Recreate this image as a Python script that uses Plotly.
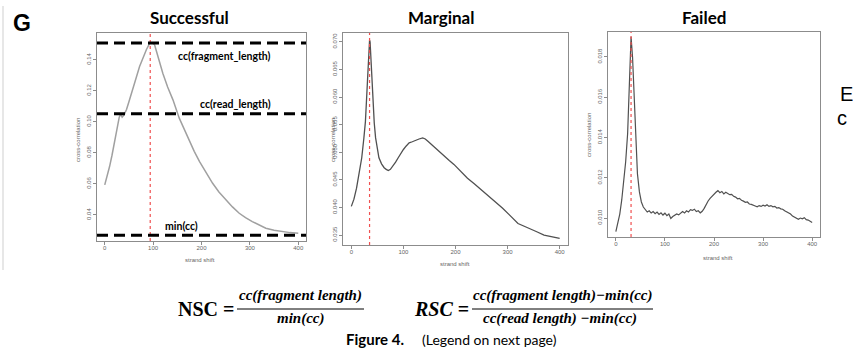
import plotly.graph_objects as go

W, H = 853, 355

# ---------------- data ----------------
succ_x = [0, 5, 10, 15, 20, 25, 30, 33, 36, 40, 45, 50, 58, 65, 72, 79, 86, 93, 98, 103,
          110, 120, 130, 141, 154, 165, 175, 185, 196, 210, 223, 236, 250, 264, 278, 291,
          305, 319, 333, 350, 367, 383, 400]
succ_y = [0.0594, 0.0650, 0.0712, 0.0785, 0.0860, 0.0945, 0.1030, 0.1050, 0.1030, 0.1045,
          0.1080, 0.1130, 0.1206, 0.1285, 0.1357, 0.1415, 0.1465, 0.1508, 0.1510, 0.1497,
          0.1420, 0.1314, 0.1225, 0.1142, 0.1024, 0.0945, 0.0884, 0.0810, 0.0744, 0.0670,
          0.0604, 0.0548, 0.0497, 0.0452, 0.0411, 0.0382, 0.0357, 0.0334, 0.0314, 0.0301,
          0.0292, 0.0286, 0.0282]
succ_frag_cc = 0.1508
succ_read_cc = 0.1052
succ_min_cc = 0.0269
succ_frag_shift = 94

marg_x = [0, 5, 10, 15, 20, 24, 27, 31, 33, 35, 36, 38, 40, 42, 44, 46.6, 50, 53, 58, 63,
          67, 71, 75, 80, 85, 90, 95, 100, 105, 111, 117, 123, 130, 137, 142, 147, 155,
          162, 170, 180, 188, 197, 210, 223, 236, 250, 263, 277, 290, 303, 312, 320, 332,
          343, 356, 370, 385, 400]
marg_y = [0.0402, 0.0415, 0.0435, 0.0460, 0.0490, 0.0525, 0.0555, 0.0629, 0.0670, 0.0703,
          0.0700, 0.0660, 0.0620, 0.0581, 0.0553, 0.0526, 0.0505, 0.0490, 0.0479, 0.0472,
          0.0469, 0.0467, 0.0469, 0.0475, 0.0482, 0.0490, 0.0498, 0.0505, 0.0511, 0.0517,
          0.0519, 0.0522, 0.0524, 0.0526, 0.0524, 0.0520, 0.0513, 0.0507, 0.0499, 0.0491,
          0.0485, 0.0478, 0.0466, 0.0453, 0.0443, 0.0432, 0.0421, 0.0411, 0.0399, 0.0387,
          0.0379, 0.0371, 0.0366, 0.0362, 0.0356, 0.0350, 0.0347, 0.0344]
marg_frag_shift = 35

fail_x = [0, 4, 8, 12, 16, 20, 24, 28, 31, 34, 37, 40, 44, 48, 52, 56,
          60, 64, 68, 72, 76, 80, 84, 88, 92, 96, 100, 104, 108, 112, 116, 120, 124, 128,
          132, 136, 140, 144, 148, 152, 156, 160, 164, 168, 172, 176, 180, 184, 188, 192,
          196, 200, 204, 208, 212, 216, 220, 224, 228, 232, 236, 240, 244, 248, 252, 256,
          260, 264, 268, 272, 276, 280, 284, 288, 292, 296, 300, 304, 308, 312, 316, 320,
          324, 328, 332, 336, 340, 344, 348, 352, 356, 360, 364, 368, 372, 376, 380, 384,
          388, 392, 396, 400]
fail_y = [0.00933, 0.0098, 0.0102, 0.0109, 0.0118, 0.0128, 0.0142, 0.0170, 0.0190, 0.0180,
          0.0160, 0.0140, 0.0122, 0.0113, 0.0108, 0.01055,
          0.01045, 0.01030, 0.01036, 0.01025, 0.01032, 0.01022, 0.01030, 0.01018, 0.01026,
          0.01015, 0.01024, 0.01012, 0.01020, 0.00998, 0.01008, 0.01012, 0.01020, 0.01016,
          0.01026, 0.01032, 0.01025, 0.01036, 0.01030, 0.01042, 0.01038, 0.01044, 0.01032,
          0.01036, 0.01026, 0.01034, 0.01048, 0.01068, 0.01085, 0.01098, 0.01110, 0.01118,
          0.01128, 0.01136, 0.01126, 0.01132, 0.01120, 0.01128, 0.01124, 0.01116, 0.01118,
          0.01108, 0.01104, 0.01096, 0.01098, 0.01088, 0.01084, 0.01078, 0.01080, 0.01070,
          0.01068, 0.01062, 0.01060, 0.01056, 0.01062, 0.01058, 0.01064, 0.01060, 0.01066,
          0.01058, 0.01062, 0.01056, 0.01058, 0.01050, 0.01052, 0.01046, 0.01044, 0.01036,
          0.01032, 0.01024, 0.01020, 0.01010, 0.01004, 0.00998, 0.00994, 0.01000, 0.00996,
          0.01002, 0.00992, 0.00990, 0.00984, 0.00978]
fail_frag_shift = 31

x_ticks = [0, 100, 200, 300, 400]
succ_yticks = [0.04, 0.06, 0.08, 0.10, 0.12, 0.14]
succ_yticktext = ["0.04", "0.06", "0.08", "0.10", "0.12", "0.14"]
marg_yticks = [0.035, 0.040, 0.045, 0.050, 0.055, 0.060, 0.065, 0.070]
marg_yticktext = ["0.035", "0.040", "0.045", "0.050", "0.055", "0.060", "0.065", "0.070"]
fail_yticks = [0.010, 0.012, 0.014, 0.016, 0.018]
fail_yticktext = ["0.010", "0.012", "0.014", "0.016", "0.018"]

titles = ["Successful", "Marginal", "Failed"]


def px(x):
    return x / W


def py(y):
    return 1 - y / H


fig = go.Figure()
fig.add_trace(go.Scatter(x=succ_x, y=succ_y, mode="lines", xaxis="x", yaxis="y",
                         line=dict(color="#a0a0a0", width=1.5), hoverinfo="skip"))
fig.add_trace(go.Scatter(x=marg_x, y=marg_y, mode="lines", xaxis="x2", yaxis="y2",
                         line=dict(color="#505050", width=1.3), hoverinfo="skip"))
fig.add_trace(go.Scatter(x=fail_x, y=fail_y, mode="lines", xaxis="x3", yaxis="y3",
                         line=dict(color="#505050", width=1.2), hoverinfo="skip"))

tickfont = dict(family="Liberation Sans", size=6, color="#666666")
frame = dict(showline=True, linecolor="#8c8c8c", linewidth=1, mirror=True,
             showgrid=False, zeroline=False, ticks="outside", ticklen=3,
             tickcolor="#8c8c8c", tickfont=tickfont, fixedrange=True)

panels = [
    dict(xd=(97, 306), yd=(33, 241), yr=[0.0232, 0.1573], yt=succ_yticks, ytt=succ_yticktext),
    dict(xd=(343, 568), yd=(33, 245), yr=[0.0332, 0.0716], yt=marg_yticks, ytt=marg_yticktext),
    dict(xd=(608, 820), yd=(32, 237), yr=[0.00906, 0.01924], yt=fail_yticks, ytt=fail_yticktext),
]

layout = dict(width=W, height=H, margin=dict(l=0, r=0, t=0, b=0),
              paper_bgcolor="white", plot_bgcolor="white", showlegend=False)
for i, p in enumerate(panels):
    sfx = "" if i == 0 else str(i + 1)
    layout["xaxis" + sfx] = dict(frame, domain=[px(p["xd"][0]), px(p["xd"][1])],
                                 range=[-16, 416], tickvals=x_ticks,
                                 ticklabelstandoff=-2, anchor="y" + sfx)
    layout["yaxis" + sfx] = dict(frame, domain=[py(p["yd"][1]), py(p["yd"][0])],
                                 range=p["yr"], tickvals=p["yt"], ticktext=p["ytt"],
                                 tickangle=-90, anchor="x" + sfx)
fig.update_layout(**layout)

shapes = []
# red dotted fragment-length lines
for ax, s in [("", succ_frag_shift), ("2", marg_frag_shift), ("3", fail_frag_shift)]:
    shapes.append(dict(type="line", xref="x" + ax, yref="y" + ax + " domain",
                       x0=s, x1=s, y0=0, y1=1,
                       line=dict(color="#f05050", width=1.2, dash="dot")))
# black dashed cc lines in successful panel
for v in [succ_frag_cc, succ_read_cc, succ_min_cc]:
    shapes.append(dict(type="line", xref="x domain", yref="y", x0=0, x1=1, y0=v, y1=v,
                       line=dict(color="black", width=3, dash="11px,6px")))
# fraction bars
shapes.append(dict(type="line", xref="paper", yref="paper", x0=px(237), x1=px(364),
                   y0=py(309), y1=py(309), line=dict(color="black", width=1)))
shapes.append(dict(type="line", xref="paper", yref="paper", x0=px(472), x1=px(653),
                   y0=py(309), y1=py(309), line=dict(color="black", width=1)))
# page edge line on the left
shapes.append(dict(type="line", xref="paper", yref="paper", x0=px(3), x1=px(3),
                   y0=py(6), y1=py(270), line=dict(color="#cfcfcf", width=1)))
fig.update_layout(shapes=shapes)

ann = []


def txt(x, y, t, size, family="Liberation Sans", color="black", xanchor="center",
        angle=0):
    ann.append(dict(x=px(x), y=py(y), xref="paper", yref="paper", text=t, showarrow=False,
                    xanchor=xanchor, yanchor="middle", textangle=angle,
                    font=dict(family=family, size=size, color=color)))


txt(22, 23, "<b>G</b>", 23)
for (cx, t) in zip([189, 441, 704], titles):
    txt(cx, 17, "<b>" + t + "</b>", 17, family="Lato")
# panel 1 labels
txt(225, 56, "<b>cc(fragment_length)</b>", 10.5, family="Lato")
txt(235, 104, "<b>cc(read_length)</b>", 10.5, family="Lato")
txt(181, 226, "<b>min(cc)</b>", 10.5, family="Lato")
# axis titles
for cx, cy in [(200, 260), (455, 264), (718, 258)]:
    txt(cx, cy, "strand shift", 6, color="#666666")
for cx, cy in [(78, 140), (333, 140), (589, 135)]:
    txt(cx, cy, "cross-correlation", 6, color="#666666", angle=-90)
# formulas
serif = "Liberation Serif"
txt(236, 309, "<b>NSC =</b>", 20, family=serif, xanchor="right")
txt(300, 295, "<b><i>cc(fragment length)</i></b>", 15, family=serif)
txt(300, 318, "<b><i>min(cc)</i></b>", 15, family=serif)
txt(471, 309, "<b><i>RSC</i> =</b>", 20, family=serif, xanchor="right")
txt(562, 295, "<b><i>cc(fragment length)−min(cc)</i></b>", 15, family=serif)
txt(560, 318, "<b><i>cc(read length) −min(cc)</i></b>", 15, family=serif)
txt(375, 339, "<b>Figure 4.</b>", 15, family="Lato")
txt(489, 339, "(Legend on next page)", 14, family="Lato")
# cut-off text on the right
txt(838, 94, "E", 20, xanchor="left")
txt(835, 118, "c", 20, xanchor="left")
fig.update_layout(annotations=ann)

fig.write_html("out.html")
